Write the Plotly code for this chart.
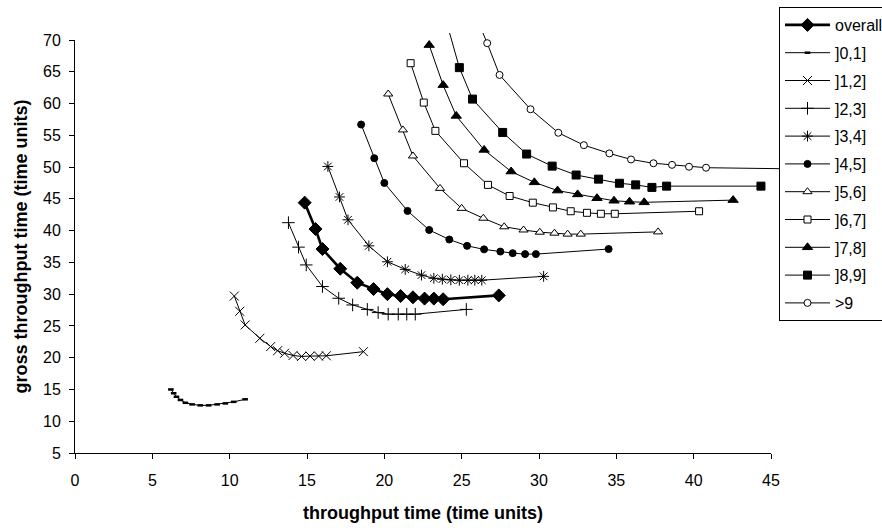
import plotly.graph_objects as go

# Throughput time (x) vs gross throughput time (y), per class of processing time
overall_x = [14.85, 15.55, 16.0, 17.15, 18.25, 19.3, 20.2, 21.05, 21.85, 22.6, 23.2, 23.8, 27.4]
overall_y = [44.4, 40.25, 37.1, 34.0, 31.8, 30.8, 30.0, 29.7, 29.5, 29.3, 29.3, 29.2, 29.8]

c01_x = [6.2, 6.38, 6.56, 6.82, 7.14, 7.57, 8.1, 8.64, 9.19, 9.72, 10.26, 11.0]
c01_y = [15.0, 14.4, 13.85, 13.35, 12.9, 12.65, 12.5, 12.5, 12.65, 12.8, 13.05, 13.45]

c12_x = [10.3, 10.65, 11.0, 11.95, 12.65, 13.1, 13.55, 14.1, 14.65, 15.2, 15.75, 16.25, 18.65]
c12_y = [29.7, 27.3, 25.15, 23.05, 21.75, 21.1, 20.7, 20.35, 20.2, 20.25, 20.25, 20.3, 20.95]

c23_x = [13.8, 14.45, 14.95, 16.0, 17.05, 17.95, 18.9, 19.6, 20.25, 20.9, 21.45, 22.0, 25.3]
c23_y = [41.25, 37.4, 34.6, 31.2, 29.35, 28.3, 27.6, 27.1, 26.85, 26.85, 26.85, 26.85, 27.6]

c34_x = [16.35, 17.1, 17.65, 19.0, 20.2, 21.35, 22.4, 23.2, 23.75, 24.3, 24.85, 25.4, 25.85, 26.3, 30.3]
c34_y = [50.1, 45.3, 41.7, 37.6, 35.1, 33.9, 33.0, 32.5, 32.35, 32.25, 32.2, 32.2, 32.2, 32.2, 32.8]

c45_x = [18.5, 19.35, 20.0, 21.5, 22.9, 24.2, 25.35, 26.45, 27.5, 28.3, 29.1, 29.8, 34.5]
c45_y = [56.7, 51.4, 47.5, 43.1, 40.1, 38.6, 37.6, 37.05, 36.7, 36.45, 36.3, 36.3, 37.1]

c56_x = [20.25, 21.2, 21.85, 23.6, 25.0, 26.4, 27.75, 29.0, 30.05, 31.0, 31.85, 32.7, 37.7]
c56_y = [61.5, 55.85, 51.75, 46.65, 43.5, 41.95, 40.6, 40.1, 39.75, 39.6, 39.45, 39.45, 39.8]

c67_x = [21.7, 22.55, 23.3, 25.15, 26.7, 28.1, 29.6, 30.9, 32.05, 33.1, 34.0, 34.9, 40.35]
c67_y = [66.35, 60.15, 55.7, 50.6, 47.2, 45.45, 44.4, 43.65, 43.05, 42.8, 42.65, 42.65, 43.05]

c78_x = [22.9, 23.8, 24.65, 26.45, 28.2, 29.7, 31.2, 32.5, 33.75, 34.85, 35.85, 36.8, 42.55]
c78_y = [69.2, 62.9, 58.05, 52.7, 49.3, 47.6, 46.3, 45.7, 45.1, 44.7, 44.55, 44.45, 44.8]

c89_x = [24.0, 24.85, 25.7, 27.65, 29.2, 30.85, 32.4, 33.85, 35.2, 36.25, 37.3, 38.25, 44.35]
c89_y = [73.0, 65.65, 60.7, 55.45, 52.05, 50.15, 48.75, 48.1, 47.45, 47.2, 46.8, 47.0, 47.0]

c9p_x = [26.0, 26.65, 27.45, 29.45, 31.25, 32.9, 34.55, 35.95, 37.4, 38.6, 39.7, 40.8, 47.0]
c9p_y = [73.3, 69.5, 64.5, 59.1, 55.4, 53.45, 52.15, 51.2, 50.6, 50.35, 50.05, 49.9, 49.7]

x_ticks = [0, 5, 10, 15, 20, 25, 30, 35, 40, 45]
y_ticks = [5, 10, 15, 20, 25, 30, 35, 40, 45, 50, 55, 60, 65, 70]

# name, x, y, symbol, size, fill, line width of series
series = [
    ("overall", overall_x, overall_y, "diamond", 10, "black", 2.6),
    ("]0,1]", c01_x, c01_y, "line-ew-open", 4, "black", 1),
    ("]1,2]", c12_x, c12_y, "x-thin-open", 9, "black", 1),
    ("]2,3]", c23_x, c23_y, "cross-thin-open", 9, "black", 1),
    ("]3,4]", c34_x, c34_y, "asterisk-open", 9, "black", 1),
    ("]4,5]", c45_x, c45_y, "circle", 7, "black", 1),
    ("]5,6]", c56_x, c56_y, "triangle-up", 8, "white", 1),
    ("]6,7]", c67_x, c67_y, "square", 7, "white", 1),
    ("]7,8]", c78_x, c78_y, "triangle-up", 9, "black", 1),
    ("]8,9]", c89_x, c89_y, "square", 8, "black", 1),
    (">9", c9p_x, c9p_y, "circle", 7, "white", 1),
]

FONT = "Liberation Sans, Arial, sans-serif"

# Axis frame: the visible axes run 0..45 and 5..70; the series are drawn on a
# hidden pair of axes with the same scale whose clip box reaches a little
# further right and above, so the curves may run past the axis ends.
X_MIN, X_MAX, Y_MIN, Y_MAX = 0, 45, 5, 70
X_OVER, Y_OVER = 9.0, 7.0          # extra room (px) to the right / on top
W, H = 882, 528
ML, MB = 74.5, 75
PLOT_W = 771 - ML                  # width of the 0..45 axis in px
PLOT_H = 453 - 40                  # height of the 5..70 axis in px
MR = W - ML - PLOT_W - X_OVER
MT = 40 - Y_OVER

fx = PLOT_W / (PLOT_W + X_OVER)
fy = PLOT_H / (PLOT_H + Y_OVER)
x_data_max = X_MIN + (X_MAX - X_MIN) / fx
y_data_max = Y_MIN + (Y_MAX - Y_MIN) / fy

fig = go.Figure()
# empty trace so the visible axis pair is laid out
fig.add_trace(go.Scatter(x=[None], y=[None], xaxis="x", yaxis="y",
                         mode="markers", showlegend=False, hoverinfo="skip"))
for name, xs, ys, sym, size, fill, lw in series:
    mline = 2.5 if sym == "line-ew-open" else 1
    fig.add_trace(go.Scatter(
        x=xs, y=ys, name=name, mode="lines+markers",
        xaxis="x2", yaxis="y2",
        legendgroup=name,
        line=dict(color="black", width=lw),
        marker=dict(symbol=sym, size=size, color=fill,
                    line=dict(color="black", width=mline)),
    ))

axis_common = dict(
    showline=True, linecolor="black", linewidth=1,
    ticks="outside", ticklen=5, tickcolor="black", tickwidth=1,
    showgrid=False, zeroline=False,
    tickfont=dict(family=FONT, size=16, color="black"),
)

legend_left_px = 779
legend_top_px = 7

fig.update_layout(
    width=W, height=H,
    margin=dict(l=ML, r=MR, t=MT, b=MB, autoexpand=False),
    paper_bgcolor="white", plot_bgcolor="rgba(0,0,0,0)",
    showlegend=True,
    legend=dict(
        x=(legend_left_px - ML) / (PLOT_W + X_OVER),
        y=(453 - legend_top_px) / (PLOT_H + Y_OVER),
        xanchor="left", yanchor="top",
        bordercolor="black", borderwidth=1, bgcolor="white",
        font=dict(family=FONT, size=16, color="black"),
        traceorder="grouped", tracegroupgap=4,
        itemwidth=45, maxheight=520,
    ),
    xaxis=dict(range=[X_MIN, X_MAX], domain=[0, fx], anchor="y",
               tickvals=x_ticks, ticklabelstandoff=8,
               title=dict(text="<b>throughput time (time units)</b>",
                          font=dict(family=FONT, size=18, color="black"),
                          standoff=18),
               **axis_common),
    yaxis=dict(range=[Y_MIN, Y_MAX], domain=[0, fy], anchor="x",
               tickvals=y_ticks, ticklabelstandoff=5,
               title=dict(text="<b>gross throughput time (time units)</b>",
                          font=dict(family=FONT, size=18, color="black"),
                          standoff=10),
               **axis_common),
    xaxis2=dict(range=[X_MIN, x_data_max], domain=[0, 1], anchor="y2",
                visible=False, showgrid=False, zeroline=False),
    yaxis2=dict(range=[Y_MIN, y_data_max], domain=[0, 1], anchor="x2",
                visible=False, showgrid=False, zeroline=False),
)

fig.write_html("out.html")
